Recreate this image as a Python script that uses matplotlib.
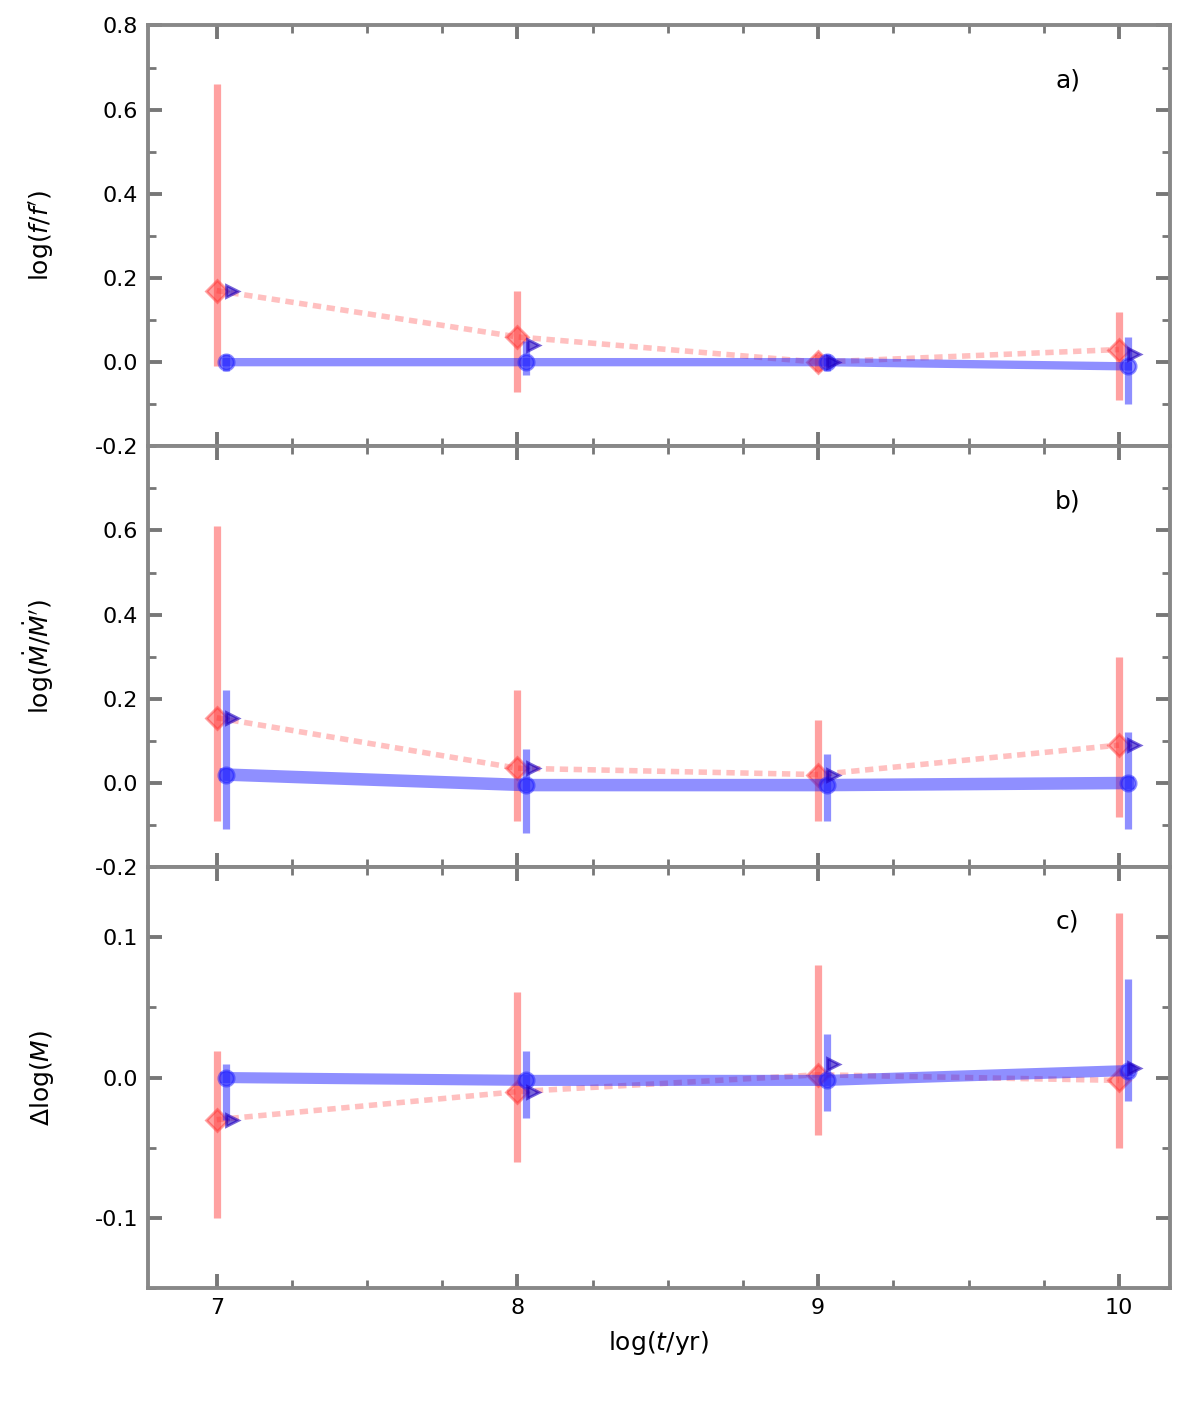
import numpy as np
import matplotlib
matplotlib.use('Agg')
import matplotlib.pyplot as plt
from matplotlib.ticker import MultipleLocator

log_t = np.array([7, 8, 9, 10])

# panel a
red_a = [0.17, 0.06, 0.0, 0.03]
red_a_lo = [-0.01, -0.07, -0.02, -0.09]
red_a_hi = [0.66, 0.17, 0.02, 0.12]
blue_a = [0.0, 0.0, 0.0, -0.01]
blue_a_lo = [-0.02, -0.03, -0.02, -0.10]
blue_a_hi = [0.02, 0.05, 0.02, 0.06]
alt_a = [0.17, 0.04, 0.0, 0.02]

# panel b
red_b = [0.155, 0.035, 0.02, 0.09]
red_b_lo = [-0.09, -0.09, -0.09, -0.08]
red_b_hi = [0.61, 0.22, 0.15, 0.30]
blue_b = [0.02, -0.005, -0.005, 0.0]
blue_b_lo = [-0.11, -0.12, -0.09, -0.11]
blue_b_hi = [0.22, 0.08, 0.07, 0.12]
alt_b = [0.155, 0.035, 0.02, 0.09]

# panel c
red_c = [-0.03, -0.01, 0.002, -0.002]
red_c_lo = [-0.10, -0.06, -0.041, -0.05]
red_c_hi = [0.019, 0.061, 0.08, 0.117]
blue_c = [0.0, -0.002, -0.002, 0.005]
blue_c_lo = [-0.03, -0.029, -0.024, -0.017]
blue_c_hi = [0.01, 0.019, 0.031, 0.07]
alt_c = [-0.03, -0.01, 0.01, 0.007]

panels = [
    (red_a, red_a_lo, red_a_hi, blue_a, blue_a_lo, blue_a_hi, alt_a),
    (red_b, red_b_lo, red_b_hi, blue_b, blue_b_lo, blue_b_hi, alt_b),
    (red_c, red_c_lo, red_c_hi, blue_c, blue_c_lo, blue_c_hi, alt_c),
]
ylabels = [r"$\log(f/f')$", r"$\log(\dot{M}/\dot{M}')$", r"$\Delta\log(M)$"]
tags = ['a)', 'b)', 'c)']
ylims = [(-0.2, 0.8), (-0.2, 0.8), (-0.15, 0.15)]
yticks = [[-0.2, 0.0, 0.2, 0.4, 0.6, 0.8], [-0.2, 0.0, 0.2, 0.4, 0.6], [-0.1, 0.0, 0.1]]
blue_lw = [3.0, 4.5, 4.0]

fig = plt.figure(figsize=(6, 7.08), dpi=200)
gs = fig.add_gridspec(3, 1, left=0.123, right=0.975, top=0.982, bottom=0.0904, hspace=0)
axes = [fig.add_subplot(gs[i]) for i in range(3)]

red = '#ff3030'
blue = '#2020ff'
for ax, p, yl, tag, lim, tk, lw in zip(axes, panels, ylabels, tags, ylims, yticks, blue_lw):
    r, rlo, rhi, b, blo, bhi, alt = [np.array(v) for v in p]
    ax.plot(log_t, r, color=red, alpha=0.3, lw=2.0, ls=(0, (1.5, 1)), zorder=2)
    ax.errorbar(log_t, r, yerr=[r - rlo, rhi - r], fmt='D', ms=5.5, color=red,
                alpha=0.45, elinewidth=2.6, capsize=0, zorder=3)
    ax.plot(log_t + 0.03, b, color=blue, alpha=0.5, lw=lw, zorder=4)
    ax.errorbar(log_t + 0.03, b, yerr=[b - blo, bhi - b], fmt='o', ms=5.5, color=blue,
                alpha=0.5, elinewidth=2.6, capsize=0, zorder=4)
    ax.plot(log_t + 0.05, alt, '>', ms=4.5, color='#2000c0', alpha=0.6, zorder=5)
    ax.set_xlim(6.77, 10.17)
    ax.set_ylim(*lim)
    ax.set_yticks(tk)
    ax.set_yticklabels([f'{v:.1f}' for v in tk])
    ax.set_ylabel(yl, fontsize=9)
    ax.yaxis.set_label_coords(-0.09, 0.5)
    ax.xaxis.set_minor_locator(MultipleLocator(0.25))
    ax.yaxis.set_minor_locator(MultipleLocator(0.1 if lim[1] > 0.5 else 0.05))
    ax.tick_params(which='both', direction='in', top=True, right=True,
                   color='#777777', labelsize=8)
    ax.tick_params(which='major', length=5, width=1.4)
    ax.tick_params(which='minor', length=3, width=1.0)
    for s in ax.spines.values():
        s.set_color('#888888')
        s.set_linewidth(1.4)
    ax.text(0.9, 0.87, tag, transform=ax.transAxes, fontsize=9, ha='center', va='center')
    ax.set_xticks(log_t)
    if ax is not axes[-1]:
        ax.tick_params(labelbottom=False)

axes[-1].set_xticklabels([str(v) for v in log_t])
axes[-1].set_xlabel(r"$\log(t/{\rm yr})$", fontsize=9)

fig.savefig('out.png', dpi=200)
